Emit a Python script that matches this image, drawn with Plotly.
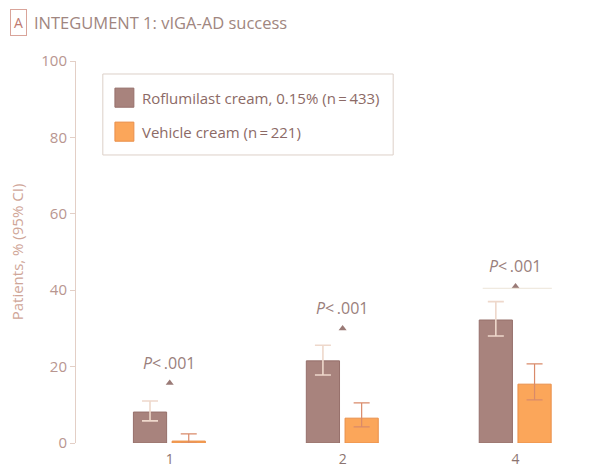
import plotly.graph_objects as go

# Weeks of treatment shown on the x axis
weeks = ["1", "2", "4"]

# Proportion of patients achieving vIGA-AD success (%), with 95% CI bounds
roflumilast = [8.1, 21.5, 32.2]
roflumilast_hi = [11.0, 25.6, 37.0]
roflumilast_lo = [5.8, 17.8, 28.0]

vehicle = [0.5, 6.5, 15.4]
vehicle_hi = [2.4, 10.5, 20.7]
vehicle_lo = [0.0, 4.2, 11.3]

# Significance markers above each group
p_labels = ["<i>P</i><\u2009.001", "<i>P</i><\u2009.001", "<i>P</i><\u2009.001"]
p_marker = [15.7, 30.0, 41.0]

yticks = [0, 20, 40, 60, 80, 100]

series_names = ["Roflumilast cream, 0.15% (n\u2009=\u2009433)",
                "Vehicle cream (n\u2009=\u2009221)"]

FONT = "Open Sans, sans-serif"
ROF = "#a8837d"
VEH = "#fba65a"

xpos = list(range(len(weeks)))
BW = 0.192

fig = go.Figure()
fig.add_trace(go.Bar(
    x=xpos, y=roflumilast, width=BW, offset=-0.21,
    marker=dict(color=ROF, line=dict(color="#96706b", width=1)),
    error_y=dict(type="data", symmetric=False,
                 array=[h - v for h, v in zip(roflumilast_hi, roflumilast)],
                 arrayminus=[v - l for v, l in zip(roflumilast, roflumilast_lo)],
                 color="#eed8cb", thickness=1.6, width=8),
    name=series_names[0], showlegend=False,
))
fig.add_trace(go.Bar(
    x=xpos, y=vehicle, width=BW, offset=0.014,
    marker=dict(color=VEH, line=dict(color="#e98f4a", width=1)),
    error_y=dict(type="data", symmetric=False,
                 array=[h - v for h, v in zip(vehicle_hi, vehicle)],
                 arrayminus=[v - l for v, l in zip(vehicle, vehicle_lo)],
                 color="#d98a6a", thickness=1.2, width=8),
    name=series_names[1], showlegend=False,
))

# Triangle markers for significance
fig.add_trace(go.Scatter(
    x=xpos, y=p_marker, mode="markers",
    marker=dict(symbol="triangle-up", size=7, color="#9a7a76"),
    showlegend=False, cliponaxis=False,
))
for xi, yi, lab in zip(xpos, p_marker, p_labels):
    fig.add_annotation(x=xi, y=yi, text=lab, showarrow=False, yshift=20,
                       font=dict(family=FONT, size=16, color="#9a807c"))

# Faint reference line under the week 4 marker
fig.add_shape(type="line", xref="x", yref="y",
              x0=xpos[2] - 0.19, x1=xpos[2] + 0.21,
              y0=p_marker[2] - 0.5, y1=p_marker[2] - 0.5,
              line=dict(color="#ece4d8", width=1))

# Legend box drawn with shapes and text
fig.add_shape(type="rect", xref="paper", yref="paper",
              x0=0.051, x1=0.603, y0=0.754, y1=0.966,
              line=dict(color="#ddd0c8", width=1), fillcolor="white")
legend_rows = [0.904, 0.815]
for name, col, edge, yc in zip(series_names, [ROF, VEH], ["#96706b", "#e98f4a"], legend_rows):
    fig.add_shape(type="rect", xref="paper", yref="paper",
                  x0=0.074, x1=0.110, y0=yc - 0.025, y1=yc + 0.025,
                  line=dict(color=edge, width=1), fillcolor=col)
    fig.add_annotation(xref="paper", yref="paper", x=0.122, y=yc,
                       xanchor="left", yanchor="middle", showarrow=False,
                       text=name, font=dict(family=FONT, size=15, color="#8c6a66"))

fig.update_layout(
    width=610, height=471,
    margin=dict(l=76, r=8, t=61, b=28),
    paper_bgcolor="white", plot_bgcolor="white",
    barmode="overlay",
    font=dict(family=FONT, color="#9a7670", size=14),
    showlegend=False,
    xaxis=dict(range=[-0.542, 2.5], tickvals=xpos, ticktext=weeks,
               showgrid=False, zeroline=False, showline=False, automargin=False,
               ticks="outside", ticklen=3, tickcolor="rgba(0,0,0,0)",
               tickfont=dict(family=FONT, size=14, color="#8c7470")),
    yaxis=dict(range=[0, 100], tickvals=yticks, showgrid=False, automargin=False,
               zeroline=False, showline=True, linecolor="#e3cfc6", linewidth=1,
               ticks="outside", ticklen=5, tickcolor="#e3cfc6",
               tickfont=dict(family=FONT, size=15, color="#b89690"),
               title=dict(text="Patients, % (95% CI)", standoff=14,
                          font=dict(family=FONT, size=15, color="#cfa597"))),
)

# Panel label and title
fig.add_annotation(xref="paper", yref="paper", x=-0.126, y=1.102,
                   xanchor="left", yanchor="middle", showarrow=False,
                   text="A", font=dict(family=FONT, size=14, color="#c07a70"),
                   bordercolor="#d9a49a", borderwidth=1, borderpad=3)
fig.add_annotation(xref="paper", yref="paper", x=-0.083, y=1.102,
                   xanchor="left", yanchor="middle", showarrow=False,
                   text="INTEGUMENT 1: vIGA-AD success",
                   font=dict(family=FONT, size=16.5, color="#a08680"))

fig.write_html("out.html")
